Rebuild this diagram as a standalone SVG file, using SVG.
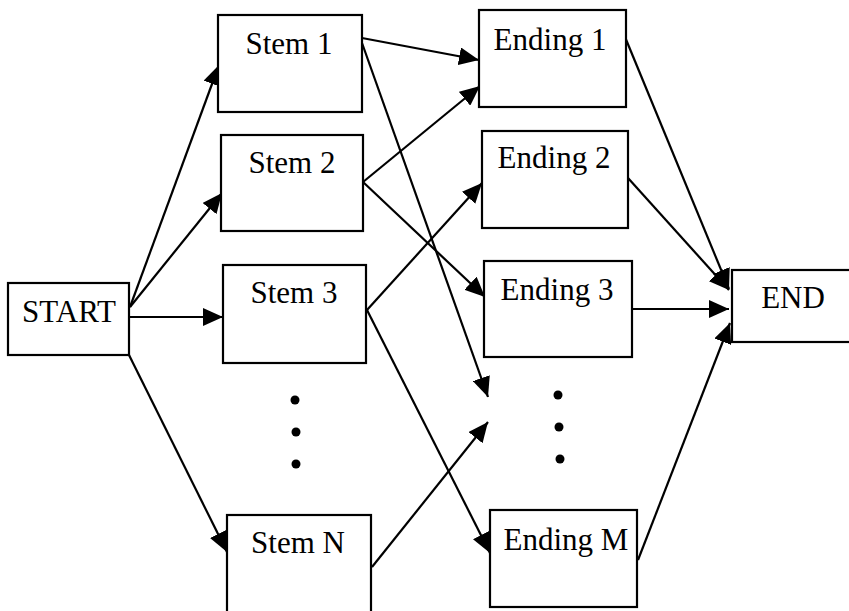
<svg xmlns="http://www.w3.org/2000/svg" width="849" height="611" viewBox="0 0 849 611">
<defs>
<style>
.box{fill:#fff;stroke:#000;stroke-width:2.2}
.lbl{font-family:"Liberation Serif","Times New Roman",serif;font-size:31px;fill:#000;text-anchor:middle}
.edge{stroke:#000;stroke-width:2.2;fill:none}
.arr{marker-end:url(#ah)}
.dot{fill:#000}
</style>
<marker id="ah" viewBox="0 0 20 18" refX="20" refY="9" markerWidth="20" markerHeight="18" markerUnits="userSpaceOnUse" orient="auto">
<path d="M0,0 L20,9 L0,18 z" fill="#000"/>
</marker>
</defs>
<rect width="849" height="611" fill="#fff"/>
<g id="connectors">
<line class="edge arr" x1="130" y1="307" x2="219" y2="65"/>
<line class="edge arr" x1="130" y1="307" x2="222" y2="193"/>
<line class="edge arr" x1="130" y1="317" x2="223" y2="317"/>
<line class="edge arr" x1="129" y1="355" x2="227" y2="552"/>
<line class="edge arr" x1="362" y1="38" x2="479" y2="60"/>
<line class="edge arr" x1="362" y1="43" x2="488" y2="397"/>
<line class="edge arr" x1="363" y1="182" x2="480" y2="86"/>
<line class="edge arr" x1="363" y1="182" x2="485" y2="297"/>
<line class="edge arr" x1="367" y1="310" x2="482" y2="183"/>
<line class="edge arr" x1="367" y1="310" x2="490" y2="553"/>
<line class="edge arr" x1="372" y1="567" x2="488" y2="422"/>
<line class="edge arr" x1="625" y1="37" x2="729" y2="289"/>
<line class="edge arr" x1="628" y1="178" x2="729" y2="290"/>
<line class="edge arr" x1="632" y1="309" x2="729" y2="309"/>
<line class="edge arr" x1="638" y1="560" x2="730" y2="323"/>
</g>
<g id="start"><rect class="box" x="8" y="283" width="121" height="72"/><text class="lbl" x="69" y="322">START</text></g>
<g id="stem1"><rect class="box" x="218" y="15" width="144" height="97"/><text class="lbl" x="289" y="54">Stem 1</text></g>
<g id="stem2"><rect class="box" x="221" y="135" width="142" height="96"/><text class="lbl" x="292" y="173">Stem 2</text></g>
<g id="stem3"><rect class="box" x="223" y="265" width="143" height="98"/><text class="lbl" x="294" y="303">Stem 3</text></g>
<g id="stem-dots"><circle class="dot" cx="295" cy="400" r="4.5"/><circle class="dot" cx="296" cy="432" r="4.5"/><circle class="dot" cx="296" cy="464" r="4.5"/></g>
<g id="stemN"><rect class="box" x="227" y="515" width="144" height="100"/><text class="lbl" x="298" y="553">Stem N</text></g>
<g id="ending1"><rect class="box" x="479" y="10" width="147" height="97"/><text class="lbl" x="550" y="50">Ending 1</text></g>
<g id="ending2"><rect class="box" x="482" y="131" width="146" height="97"/><text class="lbl" x="554" y="168">Ending 2</text></g>
<g id="ending3"><rect class="box" x="484" y="261" width="148" height="96"/><text class="lbl" x="557" y="300">Ending 3</text></g>
<g id="ending-dots"><circle class="dot" cx="558" cy="395" r="4.5"/><circle class="dot" cx="559" cy="427" r="4.5"/><circle class="dot" cx="560" cy="459" r="4.5"/></g>
<g id="endingM"><rect class="box" x="490" y="510" width="147" height="97"/><text class="lbl" x="566" y="550">Ending M</text></g>
<g id="end"><rect class="box" x="732" y="270" width="120" height="72"/><text class="lbl" x="793" y="308">END</text></g>
</svg>
